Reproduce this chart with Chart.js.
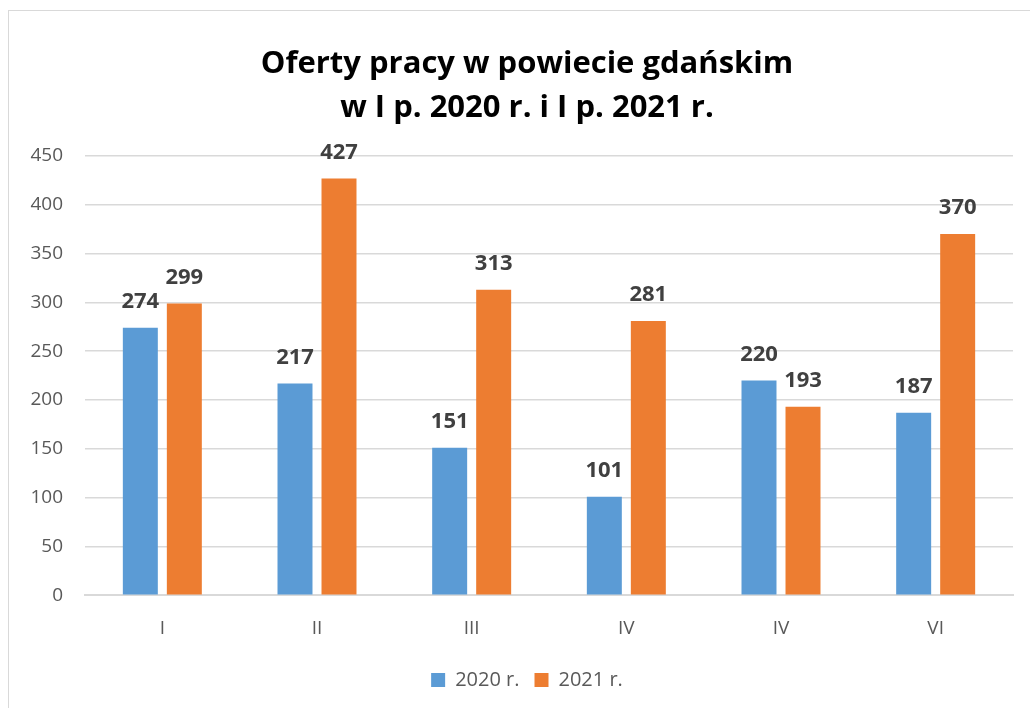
<!DOCTYPE html>
<html>
<head>
<meta charset="utf-8">
<script src="https://cdn.jsdelivr.net/npm/chart.js@4/dist/chart.umd.min.js"></script>
<style>
html,body{margin:0;padding:0;background:#fff;}
#wrap{position:absolute;left:0;top:0;width:1030px;height:708px;}
#frame{position:absolute;left:8px;top:10px;width:1040px;height:720px;border-left:1.5px solid #d9d9d9;border-top:1.5px solid #d9d9d9;pointer-events:none;}
</style>
</head>
<body>
<div id="wrap"><canvas id="c" width="1030" height="708"></canvas></div>
<div id="frame"></div>
<script>
const titleLines = ['Oferty pracy w powiecie gdańskim', 'w I p. 2020 r. i I p. 2021 r.'];
const categories = ['I', 'II', 'III', 'IV', 'IV', 'VI'];
const series2020 = [274, 217, 151, 101, 220, 187];
const series2021 = [299, 427, 313, 281, 193, 370];
const seriesNames = ['2020 r.', '2021 r.'];
const yTicks = [0, 50, 100, 150, 200, 250, 300, 350, 400, 450];

const FONT = "'Open Sans', 'Liberation Sans', sans-serif";

const labelPlugin = {
  id: 'barLabels',
  afterDatasetsDraw(chart) {
    const ctx = chart.ctx;
    ctx.save();
    ctx.font = "bold 22px " + FONT;
    ctx.fillStyle = '#404040';
    ctx.textAlign = 'center';
    ctx.textBaseline = 'bottom';
    chart.data.datasets.forEach((ds, i) => {
      const meta = chart.getDatasetMeta(i);
      meta.data.forEach((bar, j) => {
        ctx.fillText(String(ds.data[j]), bar.x, bar.y - 15);
      });
    });
    // y tick labels, placed through the y scale
    const ys = chart.scales.y;
    ctx.font = "19px " + FONT;
    ctx.fillStyle = '#595959';
    ctx.textAlign = 'right';
    ctx.textBaseline = 'middle';
    yTicks.forEach(v => {
      ctx.fillText(String(v), chart.chartArea.left - 22, ys.getPixelForValue(v));
    });
    ctx.restore();
  }
};

new Chart(document.getElementById('c'), {
  type: 'bar',
  data: {
    labels: categories,
    datasets: [
      { label: seriesNames[0], data: series2020, backgroundColor: '#5B9BD5' },
      { label: seriesNames[1], data: series2021, backgroundColor: '#ED7D31' }
    ]
  },
  options: {
    responsive: false,
    animation: false,
    layout: { padding: { left: 41, right: 17, top: 42, bottom: 8 } },
    datasets: { bar: { categoryPercentage: 0.569, barPercentage: 0.795 } },
    plugins: {
      title: {
        display: true,
        text: titleLines,
        color: '#000',
        font: { family: FONT, size: 31, weight: 'bold', lineHeight: 1.42 },
        padding: { top: 0, bottom: 26 }
      },
      legend: {
        position: 'bottom',
        labels: {
          boxWidth: 14, boxHeight: 14, color: '#595959',
          font: { family: FONT, size: 20 }, padding: 15
        }
      },
      tooltip: { enabled: false }
    },
    scales: {
      x: {
        grid: { display: false, drawTicks: false },
        border: { color: '#d9d9d9', width: 2 },
        ticks: { color: '#595959', font: { family: FONT, size: 19 }, padding: 22 },
        afterFit(scale) { scale.height = scale.height - 7; }
      },
      y: {
        min: 0, max: 450,
        afterBuildTicks(scale) { scale.ticks = yTicks.map(v => ({ value: v })); },
        afterFit(scale) { scale.width = 44; },
        grid: { color: '#d9d9d9', lineWidth: 1.5, drawTicks: false },
        border: { display: false },
        ticks: { display: false }
      }
    }
  },
  plugins: [labelPlugin]
});
</script>
</body>
</html>
